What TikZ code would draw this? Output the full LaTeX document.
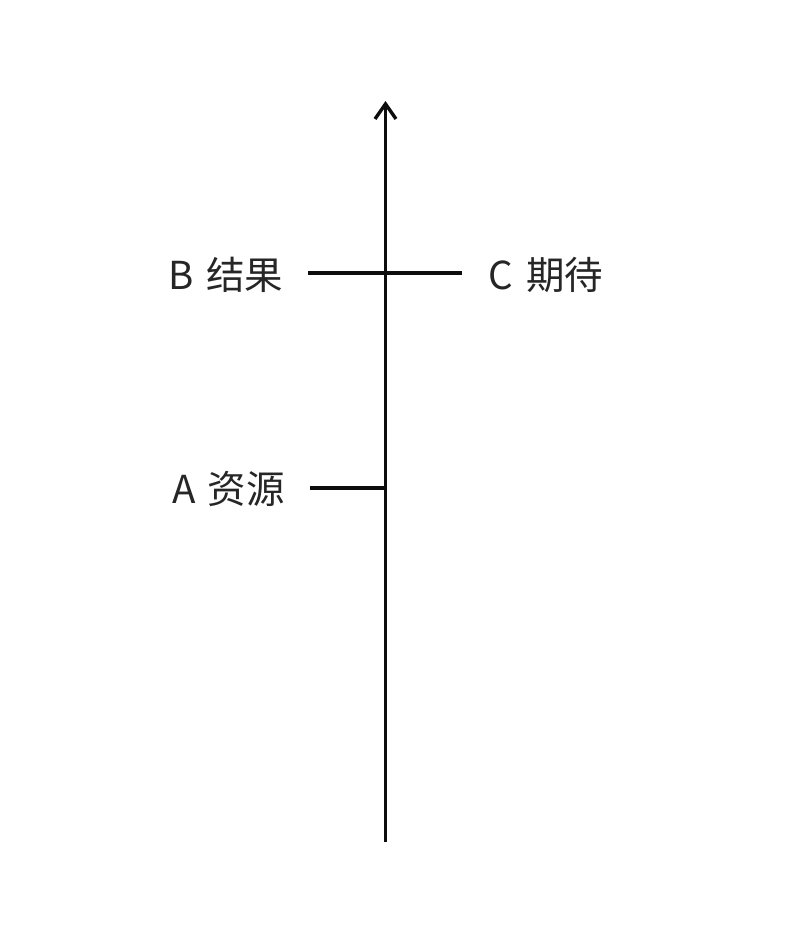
\documentclass[tikz,border=0pt]{standalone}
\usepackage{fontspec}
\setmainfont{Noto Sans CJK SC}
\usetikzlibrary{arrows.meta}
\tikzset{
  lbl/.style={font=\fontsize{38.5}{42}\selectfont, text=black!85, inner sep=0pt},
  axisline/.style={line width=3.4pt, black!95},
  tick/.style={line width=3.2pt, black!95}
}
\begin{document}
\begin{tikzpicture}[x=1pt,y=-1pt]
\useasboundingbox (0,0) rectangle (786,934);
\fill[white] (0,0) rectangle (786,934);
\coordinate (bot) at (385.5,842);
\coordinate (top) at (385.5,101);
\coordinate (bl) at (308,273);
\coordinate (cr) at (462,273);
\coordinate (al) at (310,488);
\coordinate (am) at (385.5,488);
\node[lbl] (B) at (226,275) {B\hspace{0.1em} 结果};
\node[lbl] (C) at (546,275) {C\hspace{0.1em} 期待};
\node[lbl] (A) at (228.5,489) {A\hspace{0.1em} 资源};
\draw[axisline, -{Straight Barb[length=15pt,width=21pt,line width=3.4pt]}] (bot) -- (top);
\draw[tick] (bl) -- (cr);
\draw[tick] (al) -- (am);
\end{tikzpicture}
\end{document}
